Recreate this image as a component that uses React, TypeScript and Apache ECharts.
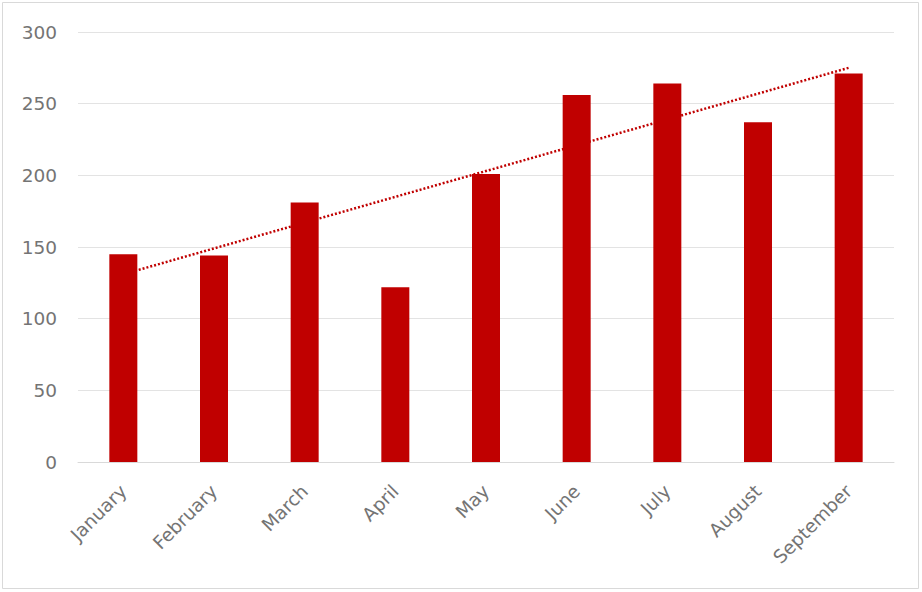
import React, { useEffect, useRef } from "react";
import * as echarts from "echarts";

const categories = ["January", "February", "March", "April", "May", "June", "July", "August", "September"];
const values = [145, 144, 181, 122, 201, 256, 264, 237, 271];
const trendStart = 131;
const trendEnd = 275;

export default function App() {
  const ref = useRef<HTMLDivElement>(null);
  useEffect(() => {
    if (!ref.current) return;
    const chart = echarts.init(ref.current, null, { renderer: "svg" });
    chart.setOption({
      animation: false,
      backgroundColor: "#ffffff",
      graphic: [
        {
          type: "rect",
          shape: { x: 2.5, y: 2.5, width: 916, height: 586 },
          style: { fill: "none", stroke: "#d9d9d9", lineWidth: 1 },
          silent: true,
        },
      ],
      grid: { left: 78, right: 28, top: 32, bottom: 130, containLabel: false },
      xAxis: {
        type: "category",
        data: categories,
        axisLine: { lineStyle: { color: "#d9d9d9" } },
        axisTick: { show: false },
        axisLabel: {
          rotate: 45,
          color: "#747474",
          fontSize: 18.5,
          fontFamily: "DejaVu Sans",
          margin: 26,
        },
      },
      yAxis: {
        type: "value",
        min: 0,
        max: 300,
        interval: 50,
        axisLine: { show: false },
        axisTick: { show: false },
        axisLabel: { color: "#747474", fontSize: 18.5, fontFamily: "DejaVu Sans", margin: 21 },
        splitLine: { lineStyle: { color: "#e3e3e3" } },
      },
      series: [
        {
          type: "line",
          data: [
            [categories[0], trendStart],
            [categories[categories.length - 1], trendEnd],
          ],
          symbol: "none",
          lineStyle: { color: "#c00000", width: 2.5, type: [2, 2] },
          z: 1,
        },
        {
          type: "bar",
          data: values,
          barWidth: 28,
          itemStyle: { color: "#c00000" },
          z: 2,
        },
      ],
    });
    return () => chart.dispose();
  }, []);
  return <div ref={ref} style={{ position: "fixed", left: 0, top: 0, width: 922, height: 592 }} />;
}
